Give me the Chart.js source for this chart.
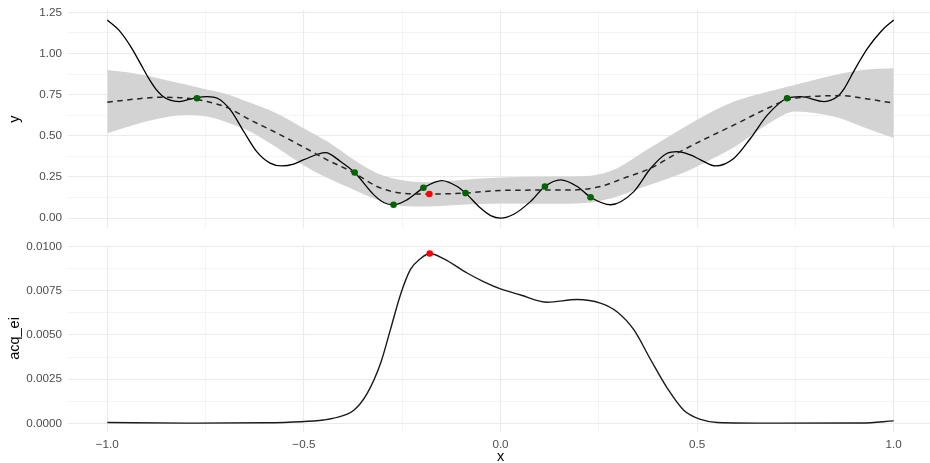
<!DOCTYPE html>
<html lang="en">
<head>
    <meta charset="UTF-8">
    <title>GP fit and expected improvement</title>
    <script src="https://cdn.jsdelivr.net/npm/chart.js"></script>
    <style>
        body {
            margin: 0;
            background: #ffffff;
            overflow: hidden;
            width: 930px;
            height: 463px;
            position: relative;
        }
        /* canvases overlap a little, chart.js keeps ~13px around the plot area */
        canvas {
            position: absolute;
            left: 0;
        }
        #topChart { top: -3px; }
        #bottomChart { top: 232px; }
    </style>
</head>
<body>
    <canvas id="topChart" width="937" height="244"></canvas>
    <canvas id="bottomChart" width="937" height="236"></canvas>

    <script>
        // true objective (solid line)
        const trueX = [-1.0, -0.97, -0.94, -0.915, -0.895, -0.877, -0.86, -0.84, -0.818, -0.797, -0.772, -0.746, -0.72,
            -0.687, -0.653, -0.62, -0.586, -0.556, -0.526, -0.5, -0.445, -0.407, -0.371, -0.322, -0.297, -0.272,
            -0.238, -0.196, -0.149, -0.11, -0.089, -0.051, -0.025, 0.0, 0.035, 0.076, 0.113, 0.153, 0.195, 0.229,
            0.28, 0.339, 0.382, 0.424, 0.449, 0.483, 0.509, 0.547, 0.594, 0.636, 0.679, 0.729, 0.763, 0.823,
            0.857, 0.875, 0.891, 0.91, 0.933, 0.97, 1.0];
        const trueY = [1.203, 1.14, 1.04, 0.935, 0.85, 0.785, 0.742, 0.716, 0.708, 0.718, 0.732, 0.738, 0.728,
            0.657, 0.526, 0.404, 0.334, 0.317, 0.328, 0.355, 0.398, 0.344, 0.277, 0.141, 0.095, 0.081,
            0.111, 0.184, 0.228, 0.192, 0.152, 0.061, 0.015, 0.0, 0.025, 0.10, 0.192, 0.232, 0.192, 0.127,
            0.081, 0.161, 0.303, 0.394, 0.404, 0.384, 0.354, 0.317, 0.364, 0.485, 0.627, 0.728, 0.738, 0.708,
            0.738, 0.79, 0.859, 0.94, 1.03, 1.14, 1.203];

        // GP posterior mean (dashed)
        const meanX = [-1.0, -0.933, -0.865, -0.797, -0.746, -0.695, -0.636, -0.568, -0.5, -0.441, -0.371, -0.314,
            -0.254, -0.181, -0.089, 0.0, 0.1, 0.17, 0.254, 0.314, 0.382, 0.449, 0.515, 0.594, 0.679, 0.729,
            0.788, 0.865, 0.933, 1.0];
        const meanY = [0.704, 0.722, 0.734, 0.728, 0.708, 0.671, 0.596, 0.516, 0.43, 0.354, 0.273, 0.192,
            0.152, 0.146, 0.152, 0.168, 0.17, 0.17, 0.192, 0.243, 0.303, 0.394, 0.475, 0.566, 0.667, 0.718,
            0.738, 0.744, 0.724, 0.698];

        // confidence band
        const bandX = [-1.0, -0.933, -0.865, -0.8, -0.75, -0.7, -0.636, -0.57, -0.5, -0.44, -0.373, -0.314,
            -0.254, -0.186, -0.1, 0.0, 0.127, 0.229, 0.297, 0.365, 0.449, 0.522, 0.594, 0.679, 0.75, 0.85,
            0.92, 1.0];
        const bandUpper = [0.90, 0.88, 0.847, 0.811, 0.782, 0.755, 0.70, 0.637, 0.545, 0.465, 0.354, 0.273,
            0.232, 0.218, 0.232, 0.246, 0.252, 0.258, 0.303, 0.404, 0.526, 0.627, 0.708, 0.768, 0.81, 0.87,
            0.90, 0.91];
        const bandLower = [0.516, 0.566, 0.607, 0.627, 0.618, 0.585, 0.525, 0.43, 0.32, 0.243, 0.172, 0.111,
            0.075, 0.07, 0.081, 0.089, 0.087, 0.095, 0.131, 0.19, 0.26, 0.34, 0.43, 0.57, 0.648, 0.615,
            0.555, 0.486];

        // observed points and proposed next point
        const obsX = [-0.772, -0.371, -0.272, -0.196, -0.089, 0.113, 0.229, 0.729];
        const obsY = [0.728, 0.277, 0.081, 0.184, 0.152, 0.192, 0.127, 0.728];
        const nextX = [-0.181];
        const nextY = [0.146];

        // expected improvement
        const acqX = [-1.0, -0.8, -0.6, -0.509, -0.45, -0.424, -0.373, -0.339, -0.305, -0.28, -0.254, -0.229,
            -0.204, -0.18, -0.144, -0.085, -0.042, 0.0, 0.051, 0.119, 0.195, 0.254, 0.297, 0.339, 0.382,
            0.424, 0.466, 0.509, 0.551, 0.7, 0.92, 1.0];
        const acqY = [0.00006, 0.00002, 0.00004, 0.0001, 0.0002, 0.0003, 0.00075, 0.0017, 0.0034, 0.0053,
            0.0073, 0.0087, 0.0093, 0.0096, 0.0093, 0.0085, 0.008, 0.0076, 0.00726, 0.00685, 0.007, 0.0068,
            0.0063, 0.0053, 0.0036, 0.002, 0.00075, 0.00023, 0.00006, 0.00002, 0.00003, 0.00015];
        const acqBestX = [-0.18];
        const acqBestY = [0.0096];

        // axes
        const xMajor = [-1, -0.5, 0, 0.5, 1];
        const xLabels = ['\u22121.0', '\u22120.5', '0.0', '0.5', '1.0'];
        const xMinor = [-0.75, -0.25, 0.25, 0.75];
        const yMajor = [0, 0.25, 0.5, 0.75, 1, 1.25];
        const yLabels = ['0.00', '0.25', '0.50', '0.75', '1.00', '1.25'];
        const yMinor = [0.125, 0.375, 0.625, 0.875, 1.125];
        const acqMajor = [0, 0.0025, 0.005, 0.0075, 0.01];
        const acqLabels = ['0.0000', '0.0025', '0.0050', '0.0075', '0.0100'];
        const acqMinor = [0.00125, 0.00375, 0.00625, 0.00875];

        const FONT = "'Liberation Sans', Arial, sans-serif";
        const GRID = '#ebebeb';

        function zip(xs, ys) {
            return xs.map((x, i) => ({ x: x, y: ys[i] }));
        }

        function findIndex(list, v, eps) {
            return list.findIndex(m => Math.abs(m - v) < eps);
        }

        function axis(major, minor, labels, eps, extra) {
            const all = major.concat(minor).sort((a, b) => a - b);
            return Object.assign({
                type: 'linear',
                afterBuildTicks: s => { s.ticks = all.map(v => ({ value: v })); },
                border: { display: false },
                grid: {
                    color: GRID,
                    drawTicks: false,
                    lineWidth: ctx => (ctx.tick && findIndex(major, ctx.tick.value, eps) >= 0) ? 1.1 : 0.55
                },
                ticks: {
                    autoSkip: false,
                    maxRotation: 0,
                    padding: 6,
                    color: '#4d4d4d',
                    font: { family: FONT, size: 11.7 },
                    callback: v => {
                        const i = findIndex(major, v, eps);
                        return i >= 0 ? labels[i] : '';
                    }
                }
            }, extra);
        }

        function title(text, pad) {
            return { display: true, text: text, color: '#000000', font: { family: FONT, size: 14.5 }, padding: pad };
        }

        const common = {
            responsive: false,
            animation: false,
            plugins: { legend: { display: false }, tooltip: { enabled: false } },
            elements: { point: { radius: 0 } }
        };

        // top panel: objective, GP mean and band
        new Chart(document.getElementById('topChart'), {
            type: 'line',
            data: {
                datasets: [
                    { data: zip(nextX, nextY), showLine: false, pointRadius: 3.3, pointBackgroundColor: '#ff0000', pointBorderWidth: 0, order: 0 },
                    { data: zip(obsX, obsY), showLine: false, pointRadius: 3.3, pointBackgroundColor: '#006400', pointBorderWidth: 0, order: 1 },
                    { data: zip(meanX, meanY), borderColor: '#262626', borderWidth: 1.5, borderDash: [5.5, 4.5], cubicInterpolationMode: 'monotone', fill: false, order: 2 },
                    { data: zip(trueX, trueY), borderColor: '#000000', borderWidth: 1.3, cubicInterpolationMode: 'monotone', fill: false, order: 3 },
                    { data: zip(bandX, bandUpper), borderWidth: 0, borderColor: 'rgba(0,0,0,0)', cubicInterpolationMode: 'monotone', fill: '+1', backgroundColor: '#d3d3d3', order: 4 },
                    { data: zip(bandX, bandLower), borderWidth: 0, borderColor: 'rgba(0,0,0,0)', cubicInterpolationMode: 'monotone', fill: false, order: 5 }
                ]
            },
            options: Object.assign({}, common, {
                layout: { padding: { top: 10, bottom: 7, left: 0, right: 1.4 } },
                scales: {
                    x: axis(xMajor, xMinor, xLabels, 1e-6, {
                        min: -1.1, max: 1.1,
                        ticks: { display: false },
                        afterFit: s => { s.height = 0; }
                    }),
                    y: axis(yMajor, yMinor, yLabels, 1e-6, {
                        min: -0.06, max: 1.264,
                        title: title('y', { top: 6, bottom: 0 }),
                        afterFit: s => { s.width = 68; }
                    })
                }
            })
        });

        // bottom panel: acquisition function
        new Chart(document.getElementById('bottomChart'), {
            type: 'line',
            data: {
                datasets: [
                    { data: zip(acqBestX, acqBestY), showLine: false, pointRadius: 3.3, pointBackgroundColor: '#ff0000', pointBorderWidth: 0, order: 0 },
                    { data: zip(acqX, acqY), borderColor: '#1a1a1a', borderWidth: 1.4, cubicInterpolationMode: 'monotone', fill: false, order: 1 }
                ]
            },
            options: Object.assign({}, common, {
                layout: { padding: { top: 10, bottom: 0, left: 0, right: 1.4 } },
                scales: {
                    x: axis(xMajor, xMinor, xLabels, 1e-6, {
                        min: -1.1, max: 1.1,
                        title: title('x', { top: 0, bottom: 2 }),
                        afterFit: s => { s.height = 36; }
                    }),
                    y: axis(acqMajor, acqMinor, acqLabels, 1e-8, {
                        min: -0.00048, max: 0.01008,
                        title: title('acq_ei', { top: 6, bottom: 0 }),
                        afterFit: s => { s.width = 68; }
                    })
                }
            })
        });
    </script>
</body>
</html>
